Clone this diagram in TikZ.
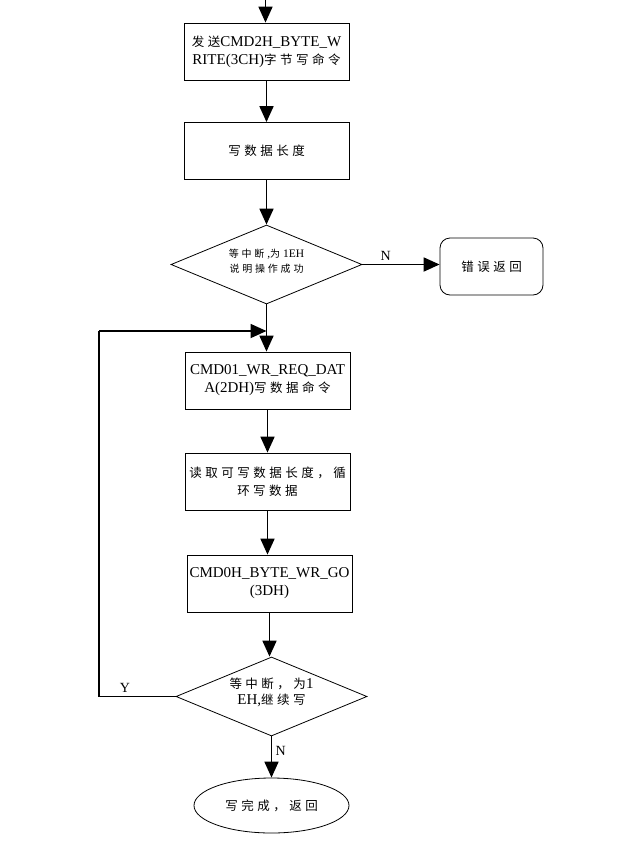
\documentclass[tikz,border=0pt]{standalone}
\usepackage{fontspec}
\setmainfont{Liberation Serif}
\newfontfamily\cjk[LetterSpace=28]{Noto Sans CJK SC}
\newcommand{\zh}[1]{{\cjk\fontsize{12.5}{15}\selectfont #1}}
\newcommand{\flattxt}[1]{\smash{\makebox[0pt]{\begin{tabular}{@{}c@{}}#1\end{tabular}}}}
\usetikzlibrary{shapes.geometric,arrows.meta}
\begin{document}
\begin{tikzpicture}[x=1pt,y=-1pt,
  box/.style={draw,line width=0.8pt,minimum width=165pt,minimum height=57pt,align=center,inner sep=1pt,font=\fontsize{15}{18}\selectfont},
  dia/.style={draw,line width=0.8pt,diamond,minimum width=191pt,minimum height=79pt,inner sep=0pt,font=\fontsize{15}{18}\selectfont},
  conn/.style={line width=1.8pt,-{Triangle[length=16pt,width=14pt]}},
  plain/.style={line width=1.8pt},
  lab/.style={font=\fontsize{14}{16}\selectfont}]
\useasboundingbox (0,0) rectangle (619,844);
\coordinate (top) at (265.5,0);
\node[box] (b1) at (266.5,51.5) {\zh{发送}CMD2H\_BYTE\_W\\RITE(3CH)\zh{字节写命令}};
\node[box] (b2) at (266.5,151) {\zh{写数据长度}};
\node[dia] (d1) at (266.5,264.5) {\flattxt{{\cjk\fontsize{10}{13}\selectfont 等中断}{\fontsize{11.5}{13}\selectfont\ ,}{\cjk\fontsize{10}{13}\selectfont 为}{\fontsize{11.5}{13}\selectfont\ 1EH}\\[-3pt]{\cjk\fontsize{10}{13}\selectfont 说明操作成功}}};
\node[box,minimum width=103pt,rounded corners=10pt] (err) at (491.5,266.5) {\zh{错误返回}};
\node[box] (b3) at (267.5,380.5) {CMD01\_WR\_REQ\_DAT\\A(2DH)\zh{写数据命令}};
\node[box] (b4) at (267.5,481.5) {\zh{读取可写数据长度，循}\\\zh{环写数据}};
\node[box] (b5) at (269.5,583.5) {CMD0H\_BYTE\_WR\_GO\\(3DH)};
\node[dia] (d2) at (271.5,696.5) {\flattxt{\zh{等中断，为}1\\[-2pt]EH,\zh{继续写}}};
\node[draw,line width=0.8pt,ellipse,minimum width=155pt,minimum height=55pt,inner sep=0pt] (end) at (271.5,805.5) {\zh{写完成，返回}};
\coordinate (lp1) at (99,696.5);
\coordinate (lp2) at (99,331);
\coordinate (lp3) at (266.5,331);
\draw[conn] (top) -- (b1.north -| top);
\draw[conn] (b1) -- (b2);
\draw[conn] (b2) -- (d1);
\draw[conn] (d1.east) -- node[lab,above,pos=0.3]{N} (d1.east -| err.west);
\draw[conn] (d1.south) -- (d1.south |- b3.north);
\draw[conn] (b3) -- (b4);
\draw[conn] (b4.south) -- (b4.south |- b5.north);
\draw[conn] (b5.south) -- (b5.south |- d2.north);
\draw[conn] (d2) -- node[lab,right,pos=0.35]{N} (end);
\draw[plain] (d2.west) -- node[lab,above,pos=0.66]{Y} (lp1) -- (lp2);
\draw[conn] (lp2) -- (lp3);
\end{tikzpicture}
\end{document}
